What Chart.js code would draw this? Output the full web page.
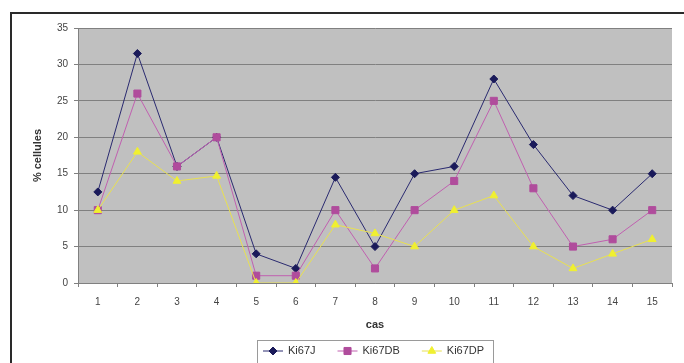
<!DOCTYPE html>
<html>
<head>
<meta charset="utf-8">
<script src="https://cdn.jsdelivr.net/npm/chart.js@4/dist/chart.umd.min.js"></script>
<style>
  html, body { margin: 0; padding: 0; background: #fff; overflow: hidden; }
  #wrap { position: relative; width: 684px; height: 363px; }
  #frame {
    position: absolute; left: 10px; top: 12px; width: 700px; height: 400px;
    border: 2px solid #2a2a2a; box-sizing: border-box; pointer-events: none;
  }
  canvas { position: absolute; left: 0; top: 0; }
</style>
</head>
<body>
<div id="wrap">
  <canvas id="chart" width="684" height="363"></canvas>
  <div id="frame"></div>
</div>
<script>
const categories = ["1", "2", "3", "4", "5", "6", "7", "8", "9", "10", "11", "12", "13", "14", "15"];
const ki67J = [12.5, 31.5, 16, 20, 4, 2, 14.5, 5, 15, 16, 28, 19, 12, 10, 15];
const ki67DB = [10, 26, 16, 20, 1, 1, 10, 2, 10, 14, 25, 13, 5, 6, 10];
const ki67DP = [10, 18, 14, 14.7, 0, 0, 8, 6.8, 5, 10, 12, 5, 2, 4, 6];

const FONT = "'Liberation Sans', Arial, sans-serif";

// grey plot background
const plotBg = {
  id: "plotBg",
  beforeDraw(chart) {
    const { ctx, chartArea: a } = chart;
    ctx.save();
    ctx.fillStyle = "#c0c0c0";
    ctx.fillRect(a.left, a.top, a.right - a.left, a.bottom - a.top);
    ctx.restore();
  },
};

// Excel-style legend box under the chart
const boxLegend = {
  id: "boxLegend",
  afterDraw(chart) {
    const { ctx } = chart;
    const y = 351;
    ctx.save();
    ctx.strokeStyle = "#9a9a9a";
    ctx.lineWidth = 1;
    ctx.strokeRect(257.5, 340.5, 236, 24);
    ctx.font = "11px " + FONT;
    ctx.textBaseline = "middle";
    let x = 263;
    chart.data.datasets.forEach((ds) => {
      ctx.strokeStyle = ds.borderColor;
      ctx.lineWidth = 1;
      ctx.beginPath();
      ctx.moveTo(x, y);
      ctx.lineTo(x + 20, y);
      ctx.stroke();
      ctx.fillStyle = ds.pointBackgroundColor;
      ctx.strokeStyle = ds.pointBorderColor;
      Chart.helpers.drawPoint(ctx, {
        pointStyle: ds.pointStyle,
        radius: ds.pointRadius,
        borderWidth: 1,
        rotation: 0,
      }, x + 10, y);
      ctx.fillStyle = "#333";
      ctx.fillText(ds.label, x + 25, y);
      x += 25 + ctx.measureText(ds.label).width + 22;
    });
    ctx.restore();
  },
};

new Chart(document.getElementById("chart"), {
  type: "line",
  data: {
    labels: categories,
    datasets: [
      {
        label: "Ki67J",
        data: ki67J,
        order: 3,
        borderColor: "#2a2a70",
        borderWidth: 1,
        pointStyle: "rectRot",
        pointRadius: 4,
        pointBackgroundColor: "#1a1a5a",
        pointBorderColor: "#1a1a5a",
        tension: 0,
      },
      {
        label: "Ki67DB",
        data: ki67DB,
        order: 2,
        borderColor: "#c060b0",
        borderWidth: 1,
        pointStyle: "rect",
        pointRadius: 5,
        pointBackgroundColor: "#b04c9c",
        pointBorderColor: "#b04c9c",
        tension: 0,
      },
      {
        label: "Ki67DP",
        data: ki67DP,
        order: 1,
        borderColor: "#e8e050",
        borderWidth: 1,
        pointStyle: "triangle",
        pointRadius: 4.5,
        pointBackgroundColor: "#f0f030",
        pointBorderColor: "#f0f030",
        tension: 0,
      },
    ],
  },
  options: {
    responsive: false,
    animation: false,
    layout: { padding: { top: 28, right: 12, left: 0, bottom: 0 } },
    plugins: {
      legend: { display: false },
      tooltip: { enabled: false },
    },
    scales: {
      x: {
        offset: true,
        afterFit(scale) {
          scale.height = 80;
        },
        grid: {
          offset: true,
          drawOnChartArea: false,
          drawTicks: true,
          tickLength: 4,
          color: "#808080",
        },
        border: { color: "#808080", width: 1 },
        ticks: {
          color: "#444",
          font: { family: FONT, size: 10 },
          padding: 9,
          maxRotation: 0,
        },
        title: {
          display: true,
          text: "cas",
          color: "#333",
          font: { family: FONT, size: 11, weight: "bold" },
          padding: { top: 0, bottom: 31 },
        },
      },
      y: {
        min: 0,
        max: 35,
        afterFit(scale) {
          scale.width = 78;
        },
        ticks: {
          stepSize: 5,
          color: "#444",
          font: { family: FONT, size: 10 },
          padding: 6,
        },
        grid: {
          color: "#808080",
          lineWidth: 1,
          drawTicks: true,
          tickLength: 4,
        },
        border: { color: "#808080", width: 1 },
        title: {
          display: true,
          text: "% cellules",
          color: "#333",
          font: { family: FONT, size: 11, weight: "bold" },
          padding: { top: 31, bottom: 0 },
        },
      },
    },
  },
  plugins: [plotBg, boxLegend],
});
</script>
</body>
</html>
